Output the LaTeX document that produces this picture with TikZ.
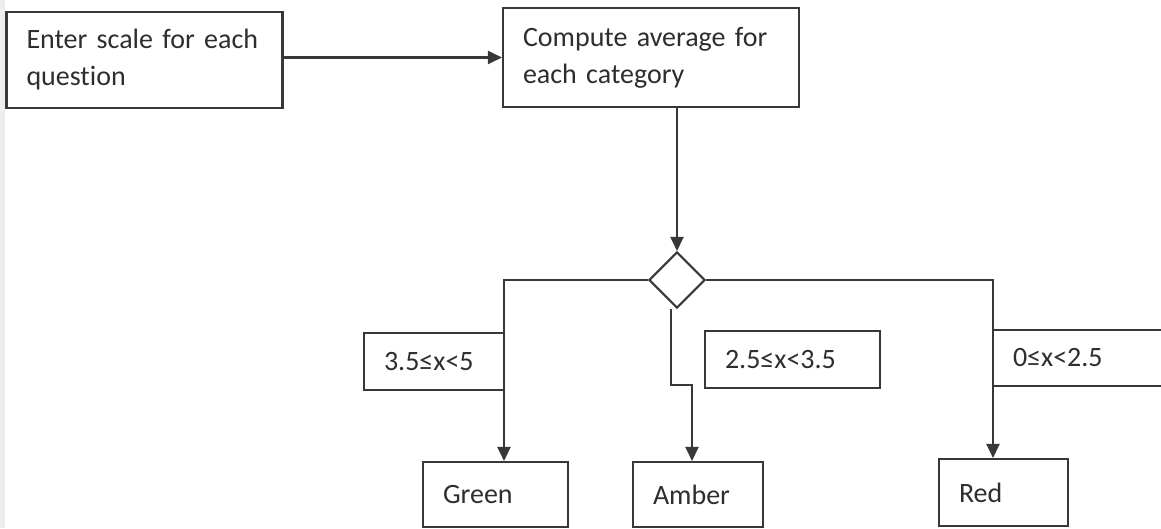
\documentclass[tikz,border=0pt]{standalone}
\usepackage{fontspec}
\setmainfont{Carlito}[Ligatures=NoCommon]
\usetikzlibrary{arrows.meta,shapes.geometric}
\definecolor{ink}{HTML}{383838}
\definecolor{txt}{HTML}{2E2E2E}
\begin{document}
\begin{tikzpicture}[x=1pt,y=-1pt,
  every node/.style={font=\fontsize{28}{37}\selectfont, text=txt},
  box/.style={draw=ink, line width=2.1pt, rectangle, inner xsep=20pt,
    inner ysep=0pt, align=left},
  decision/.style={draw=ink, line width=2.1pt, diamond, aspect=1,
    inner sep=0pt, minimum width=56pt, minimum height=56pt},
  link/.style={draw=ink, line width=2.1pt},
  arr/.style={link, -{Triangle[length=14pt,width=13pt]}}]
\useasboundingbox (0,0) rectangle (1161,528);
\fill[white] (0,0) rectangle (1161,528);
\fill[black!7] (0,0) rectangle (5,528);

% process boxes
\node[box, text width=236pt, minimum height=96pt] (b1) at (144.5,60)
  {Enter scale for each\\question};
\node[box, text width=256pt, minimum height=99pt] (b2) at (651,57.5)
  {Compute average for\\each category};

% decision
\node[decision] (d) at (677,280) {};

% range labels
\node[box, text width=100pt, minimum height=57pt] (lg) at (434,361.5) {3.5≤x<5};
\node[box, text width=135pt, minimum height=57pt] (la) at (792.5,359.5) {2.5≤x<3.5};
\node[box, text width=157pt, minimum height=56pt] (lr) at (1091.5,358) {0≤x<2.5};

% outcomes
\node[box, text width=105pt, minimum height=65pt] (g) at (495.5,494.5) {Green};
\node[box, text width=90pt, minimum height=65pt] (a) at (698,494.5) {Amber};
\node[box, text width=89pt, minimum height=67pt] (r) at (1003.5,492.5) {Red};

% connectors
\coordinate (gc) at (504,281);
\coordinate (ac) at (692,385);
\coordinate (rc) at (993,280);

\draw[arr] (b1.east |- b2.west) -- (b2.west);
\draw[arr] (d.north |- b2.south) -- (d.north);
\draw[arr] (d.west) -- (d.west -| gc) -- (gc |- g.north);
\draw[arr] ([xshift=-6pt]d.south) |- (ac) -- (ac |- a.north);
\draw[arr] (d.east) -- (d.east -| rc) -- (rc |- r.north);
\end{tikzpicture}
\end{document}
